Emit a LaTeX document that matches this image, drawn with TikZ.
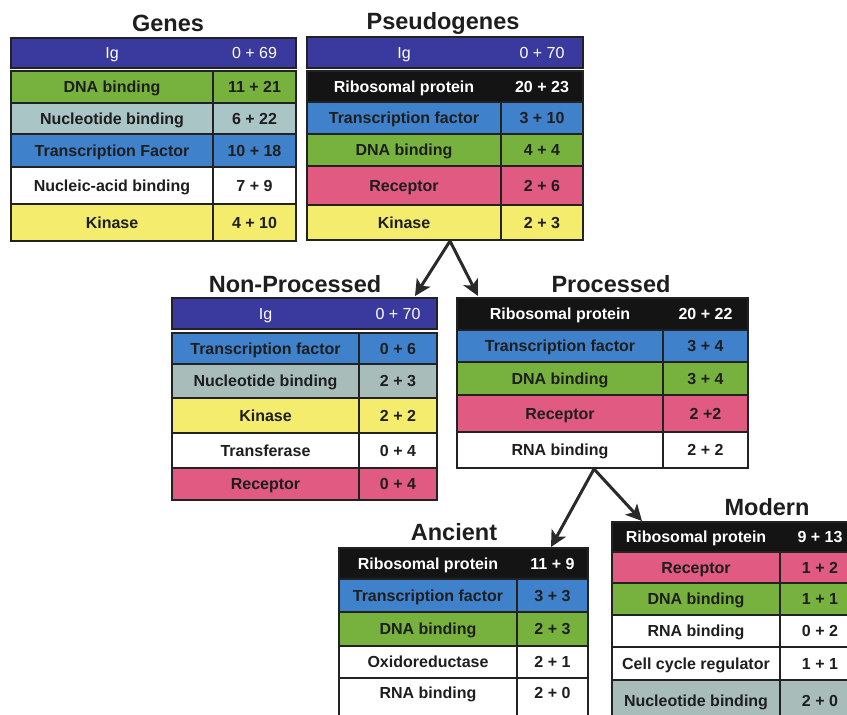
\documentclass[tikz,border=0pt]{standalone}
\usepackage{fontspec}
\setmainfont{Liberation Sans}
\usetikzlibrary{arrows.meta}
\definecolor{hdr}{HTML}{3A3A9E}
\definecolor{grn}{HTML}{78B23E}
\definecolor{gry}{HTML}{A9C5C6}
\definecolor{gry2}{HTML}{A8BDBA}
\definecolor{blu}{HTML}{3F82CB}
\definecolor{yel}{HTML}{F3EC6C}
\definecolor{pnk}{HTML}{E05A82}
\definecolor{blk}{HTML}{141414}
\definecolor{frm}{HTML}{222222}
\definecolor{ink}{HTML}{1E1E1E}
\definecolor{arrc}{HTML}{2A2A2A}

\tikzset{
  rowline/.style={draw=frm, line width=1.3pt},
  framebox/.style={draw=frm, line width=2.2pt},
  celltxt/.style={inner sep=0pt, text height=11pt, text depth=0pt, text=ink, font=\fontsize{16}{18}\selectfont\bfseries},
  whitetxt/.style={celltxt, text=white},
  headtxt/.style={celltxt, text=white, font=\fontsize{16}{18}\selectfont},
  titletxt/.style={inner sep=0pt, anchor=base, text=ink, font=\fontsize{23.5}{28}\selectfont\bfseries},
  arr/.style={draw=arrc, line width=3pt, -{Stealth[length=16pt,width=16pt,inset=4pt]}}
}

% name, x0, xdiv, x1, ytop, ybot, fill, label, value
\newcommand\cellrow[9]{%
  \filldraw[rowline,fill=#7] (#2,#5) rectangle (#3,#6);
  \filldraw[rowline,fill=#7] (#3,#5) rectangle (#4,#6);
  \node[celltxt] (#1l) at ({(#2+#3)/2},{(#5+#6)/2}) {#8};
  \node[celltxt] (#1r) at ({(#3+#4)/2},{(#5+#6)/2}) {#9};}
\newcommand\blackrow[9]{%
  \filldraw[rowline,fill=#7] (#2,#5) rectangle (#4,#6);
  \node[whitetxt] (#1l) at ({(#2+#3)/2},{(#5+#6)/2}) {#8};
  \node[whitetxt] (#1r) at ({(#3+#4)/2},{(#5+#6)/2}) {#9};}
\newcommand\headrow[9]{%
  \filldraw[framebox,fill=#7] (#2,#5) rectangle (#4,#6);
  \node[headtxt] (#1l) at ({(#2+#3)/2},{(#5+#6)/2}) {#8};
  \node[headtxt] (#1r) at ({(#3+#4)/2},{(#5+#6)/2}) {#9};}

\begin{document}
\begin{tikzpicture}[x=1pt,y=-1pt]
\clip (0,0) rectangle (847,715);
\fill[white] (0,0) rectangle (847,715);

% ---------------- Genes ----------------
\node[titletxt] (tgenes) at (168,31) {Genes};
\headrow{g0}{11}{213}{296}{38}{68}{hdr}{Ig}{0 + 69}
\cellrow{g1}{11}{213}{296}{71}{103}{grn}{DNA binding}{11 + 21}
\cellrow{g2}{11}{213}{296}{103}{134}{gry}{Nucleotide binding}{6 + 22}
\cellrow{g3}{11}{213}{296}{134}{167}{blu}{Transcription Factor}{10 + 18}
\cellrow{g4}{11}{213}{296}{167}{204}{white}{Nucleic-acid binding}{7 + 9}
\cellrow{g5}{11}{213}{296}{204}{241}{yel}{Kinase}{4 + 10}
\draw[framebox] (11,71) rectangle (296,241);

% ---------------- Pseudogenes ----------------
\node[titletxt] (tpseudo) at (443,29) {Pseudogenes};
\headrow{p0}{307}{501}{583}{37}{68}{hdr}{Ig}{0 + 70}
\blackrow{p1}{307}{501}{583}{71}{102}{blk}{Ribosomal protein}{20 + 23}
\cellrow{p2}{307}{501}{583}{102}{134}{blu}{Transcription factor}{3 + 10}
\cellrow{p3}{307}{501}{583}{134}{166}{grn}{DNA binding}{4 + 4}
\cellrow{p4}{307}{501}{583}{166}{205}{pnk}{Receptor}{2 + 6}
\cellrow{p5}{307}{501}{583}{205}{240}{yel}{Kinase}{2 + 3}
\draw[framebox] (307,71) rectangle (583,240);
\coordinate (psbot) at (450,241);

% ---------------- Non-Processed ----------------
\node[titletxt] (tnonproc) at (295,292) {Non-Processed};
\headrow{n0}{172}{359}{437}{298}{329}{hdr}{Ig}{0 + 70}
\cellrow{n1}{172}{359}{437}{333}{364}{blu}{Transcription factor}{0 + 6}
\cellrow{n2}{172}{359}{437}{364}{398}{gry2}{Nucleotide binding}{2 + 3}
\cellrow{n3}{172}{359}{437}{398}{433}{yel}{Kinase}{2 + 2}
\cellrow{n4}{172}{359}{437}{433}{468}{white}{Transferase}{0 + 4}
\cellrow{n5}{172}{359}{437}{468}{500}{pnk}{Receptor}{0 + 4}
\draw[framebox] (172,333) rectangle (437,500);
\coordinate (nptop) at (415,296);

% ---------------- Processed ----------------
\node[titletxt] (tproc) at (611,292) {Processed};
\blackrow{r1}{457}{663}{748}{298}{330}{blk}{Ribosomal protein}{20 + 22}
\cellrow{r2}{457}{663}{748}{330}{362}{blu}{Transcription factor}{3 + 4}
\cellrow{r3}{457}{663}{748}{362}{395}{grn}{DNA binding}{3 + 4}
\cellrow{r4}{457}{663}{748}{395}{432}{pnk}{Receptor}{2 +2}
\cellrow{r5}{457}{663}{748}{432}{468}{white}{RNA binding}{2 + 2}
\draw[framebox] (457,298) rectangle (748,468);
\coordinate (prtop) at (478,296);
\coordinate (prbot) at (594,469);

% ---------------- Ancient ----------------
\node[titletxt] (tancient) at (454,540) {Ancient};
\blackrow{a1}{339}{517}{588}{548}{579}{blk}{Ribosomal protein}{11 + 9}
\cellrow{a2}{339}{517}{588}{579}{612}{blu}{Transcription factor}{3 + 3}
\cellrow{a3}{339}{517}{588}{612}{646}{grn}{DNA binding}{2 + 3}
\cellrow{a4}{339}{517}{588}{646}{678}{white}{Oxidoreductase}{2 + 1}
\filldraw[rowline,fill=white] (339,678) rectangle (517,730);
\filldraw[rowline,fill=white] (517,678) rectangle (588,730);
\node[celltxt] (a5l) at (428,693) {RNA binding};
\node[celltxt] (a5r) at (552.5,693) {2 + 0};
\draw[framebox] (339,548) rectangle (588,730);
\coordinate (antop) at (551,547);

% ---------------- Modern ----------------
\node[titletxt] (tmodern) at (767,515) {Modern};
\blackrow{m1}{612}{780}{860}{522}{552}{blk}{Ribosomal protein}{9 + 13}
\cellrow{m2}{612}{780}{860}{552}{583}{pnk}{Receptor}{1 + 2}
\cellrow{m3}{612}{780}{860}{583}{615}{grn}{DNA binding}{1 + 1}
\cellrow{m4}{612}{780}{860}{615}{647}{white}{RNA binding}{0 + 2}
\cellrow{m5}{612}{780}{860}{647}{680}{white}{Cell cycle regulator}{1 + 1}
\cellrow{m6}{612}{780}{860}{680}{722}{gry2}{Nucleotide binding}{2 + 0}
\draw[framebox] (612,522) rectangle (860,730);
\coordinate (motop) at (642,521);

% ---------------- Arrows ----------------
\draw[arr] (psbot) -- (nptop);
\draw[arr] (psbot) -- (prtop);
\draw[arr] (prbot) -- (antop);
\draw[arr] (prbot) -- (motop);
\end{tikzpicture}
\end{document}
